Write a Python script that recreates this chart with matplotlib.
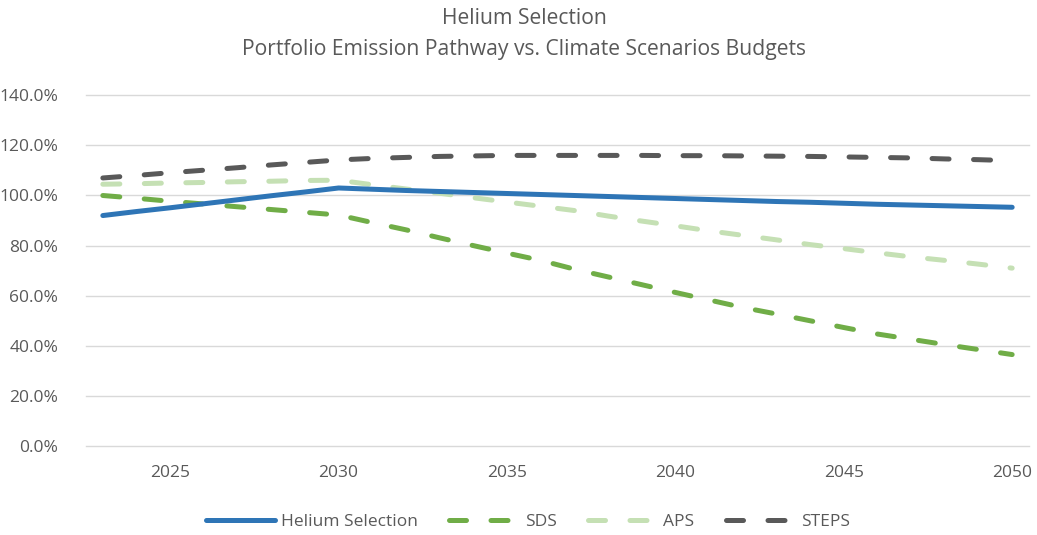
import matplotlib
matplotlib.use("Agg")
import matplotlib.pyplot as plt
from matplotlib.ticker import FuncFormatter, MultipleLocator

years = list(range(2023, 2051))

helium = [92.0, 93.6, 95.1, 96.7, 98.3, 99.9, 101.4, 103.0,
          102.5, 102.0, 101.6, 101.2, 100.8, 100.4, 100.0, 99.6, 99.2, 98.8,
          98.4, 98.0, 97.6, 97.3, 96.9, 96.5, 96.2, 95.9, 95.6, 95.3]
sds = [100.0, 98.9, 97.7, 96.6, 95.5, 94.4, 93.3, 92.2,
       89.2, 86.3, 83.1, 80.0, 77.0, 74.1, 70.6, 67.5, 64.4, 61.3,
       58.3, 55.3, 52.7, 50.0, 47.3, 44.7, 42.6, 40.5, 38.5, 36.5]
aps = [104.5, 104.7, 105.0, 105.2, 105.5, 105.7, 106.0, 106.1,
       104.3, 102.6, 100.9, 99.1, 97.4, 95.7, 94.0, 91.8, 89.8, 87.9,
       85.9, 84.1, 82.3, 80.4, 78.8, 77.1, 75.5, 74.1, 72.6, 71.0]
steps = [107.0, 108.0, 109.1, 110.1, 111.1, 112.2, 113.2, 114.2,
         114.8, 115.2, 115.6, 115.8, 116.0, 116.0, 116.0, 116.0, 116.0, 115.9,
         115.9, 115.8, 115.7, 115.6, 115.4, 115.2, 115.0, 114.6, 114.3, 113.9]

series_names = ["Helium Selection", "SDS", "APS", "STEPS"]
xtick_years = [2025, 2030, 2035, 2040, 2045, 2050]

plt.rcParams['font.family'] = ['Open Sans', 'DejaVu Sans']
TXT = "#595959"

fig = plt.figure(figsize=(10.37, 5.35), dpi=100)
ax = fig.add_axes([86/1037, 1-446/535, (1029-86)/1037, (446-95.3)/535])

lw = 3.6
dash = (3.4, 4.9)
l1, = ax.plot(years, [v/100 for v in helium], color="#2E75B6", lw=lw,
              solid_capstyle="round", label=series_names[0], zorder=5)
l2, = ax.plot(years, [v/100 for v in sds], color="#70AD47", lw=lw,
              dashes=dash, dash_capstyle="round", label=series_names[1], zorder=4)
l3, = ax.plot(years, [v/100 for v in aps], color="#C5E0B4", lw=lw,
              dashes=dash, dash_capstyle="round", label=series_names[2], zorder=3)
l4, = ax.plot(years, [v/100 for v in steps], color="#595959", lw=lw,
              dashes=dash, dash_capstyle="round", label=series_names[3], zorder=2)

ax.set_xlim(2022.5, 2050.5)
ax.set_ylim(0, 1.4)
ax.yaxis.set_major_locator(MultipleLocator(0.2))
ax.yaxis.set_major_formatter(FuncFormatter(lambda v, p: f"{v*100:.1f}%"))
ax.set_xticks(xtick_years)
ax.set_xticklabels([str(y) for y in xtick_years])
ax.grid(axis="y", color="#D9D9D9", lw=1.0)
for gl in ax.get_ygridlines():
    gl.set_clip_on(False)
ax.set_axisbelow(True)
for s in ax.spines.values():
    s.set_visible(False)
ax.tick_params(axis="both", length=0, colors=TXT, labelsize=12.5)
ax.tick_params(axis="y", pad=20)
ax.tick_params(axis="x", pad=14)

fig.text(524/1037, 1-19/535, "Helium Selection", ha="center", va="center",
         fontsize=15.2, color=TXT)
fig.text(524/1037, 1-49/535, "Portfolio Emission Pathway vs. Climate Scenarios Budgets",
         ha="center", va="center", fontsize=15.2, color=TXT)

leg = fig.legend(handles=[l1, l2, l3, l4], loc="center",
                 bbox_to_anchor=(528/1037, 1-522/535), ncol=4, frameon=False,
                 fontsize=12.5, handlelength=4.0, handletextpad=0.35,
                 columnspacing=1.8, labelcolor=TXT)

fig.savefig("out.png", dpi=100)
